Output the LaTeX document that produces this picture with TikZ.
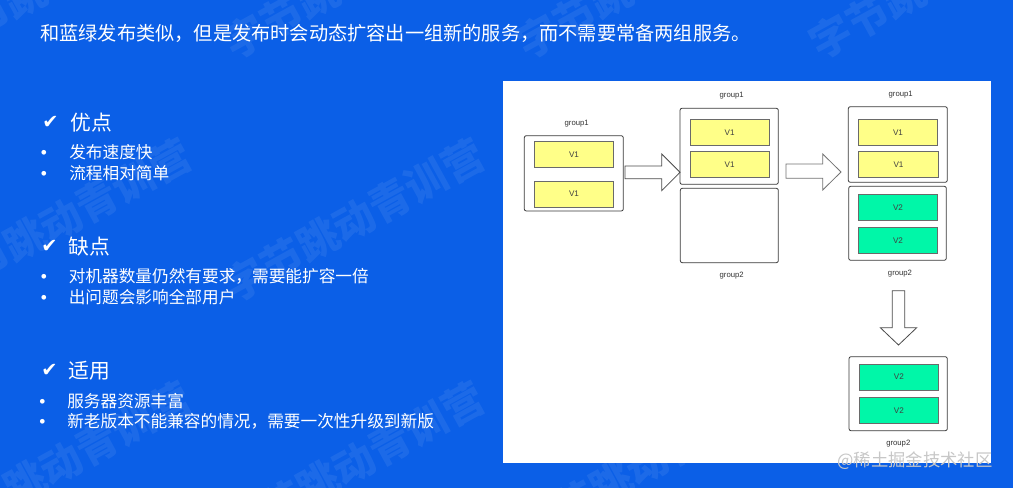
\documentclass[tikz,border=0pt]{standalone}
\usepackage{fontspec}
\setmainfont{Liberation Sans}
\newfontfamily\cjk{Noto Sans CJK SC}
\newfontfamily\symf{DejaVu Sans}
\usetikzlibrary{fit}
\definecolor{bg}{HTML}{0B5FE7}
\definecolor{vyellow}{HTML}{FFFF88}
\definecolor{vgreen}{HTML}{00F7A8}
\definecolor{boxline}{HTML}{3A3A3A}
\definecolor{vline}{HTML}{6A6A6A}
\definecolor{arrline}{HTML}{4A4A4A}
\tikzset{
  titletext/.style={anchor=west,inner sep=0,text=white,font=\cjk\fontsize{14.4pt}{16pt}\selectfont},
  headtext/.style={anchor=west,inner sep=0,text=white,font=\cjk\fontsize{15.6pt}{18pt}\selectfont},
  checkmark/.style={anchor=west,inner sep=0,text=white,font=\symf\fontsize{14.5pt}{16pt}\selectfont},
  bullettext/.style={anchor=west,inner sep=0,text=white,font=\cjk\fontsize{12.5pt}{15pt}\selectfont},
  bulletdot/.style={inner sep=0,text=white,yshift=-1.6pt,font=\fontsize{13pt}{14pt}\selectfont},
  grp/.style={draw=boxline,line width=0.6pt,rounded corners=1.5pt,fill=white,inner sep=0},
  vbox/.style={draw=vline,line width=0.5pt,inner sep=0,minimum width=59.6pt,minimum height=19.5pt,font=\fontsize{6.1pt}{7pt}\selectfont,text=black!75},
  vone/.style={vbox,fill=vyellow},
  vtwo/.style={vbox,fill=vgreen},
  grplabel/.style={inner sep=0,font=\fontsize{5.8pt}{7pt}\selectfont,text=black!80},
  blockarrow/.style={draw=arrline,line width=0.6pt,fill=white,line join=miter},
  wmark/.style={anchor=west,inner sep=0,rotate=28.8,text=white,text opacity=0.07,font=\cjk\bfseries\fontsize{31pt}{33pt}\selectfont},
}
\begin{document}
\begin{tikzpicture}[x=0.75pt,y=-0.75pt]
\fill[bg] (0,0) rectangle (1013,488);
\useasboundingbox (0,0) rectangle (1013,488);

% faint diagonal watermarks (only those not hidden by the white panel)
\foreach \wx/\wy [count=\i] in {-66/47, 227/47, 520/47, 813/47, -66/290, 227/290, -66/533, 227/533, 520/533}
  \node[wmark] (wmk\i) at (\wx,\wy) {字节跳动青训营};

% title
\node[titletext] (title) at (40,33) {和蓝绿发布类似，但是发布时会动态扩容出一组新的服务，而不需要常备两组服务。};

% section 1
\node[checkmark] (c1) at (42,122) {✔};
\node[headtext] (h1) at (70,123) {优点};
\node[bulletdot] (b11) at (44,152.5) {•};
\node[bullettext] (t11) at (69,152.5) {发布速度快};
\node[bulletdot] (b12) at (44,173.3) {•};
\node[bullettext] (t12) at (69,173.3) {流程相对简单};

% section 2
\node[checkmark] (c2) at (41,246) {✔};
\node[headtext] (h2) at (68.5,246.7) {缺点};
\node[bulletdot] (b21) at (44,276.7) {•};
\node[bullettext] (t21) at (68.5,276.7) {对机器数量仍然有要求，需要能扩容一倍};
\node[bulletdot] (b22) at (44,297.3) {•};
\node[bullettext] (t22) at (68.5,297.3) {出问题会影响全部用户};

% section 3
\node[checkmark] (c3) at (41,370) {✔};
\node[headtext] (h3) at (68.5,370.7) {适用};
\node[bulletdot] (b31) at (42.5,401) {•};
\node[bullettext] (t31) at (67,401) {服务器资源丰富};
\node[bulletdot] (b32) at (42.5,421.7) {•};
\node[bullettext] (t32) at (67,421.7) {新老版本不能兼容的情况，需要一次性升级到新版};

% white panel
\fill[white] (503,81) rectangle (991,463);

% column A
\node[grplabel] (la) at (576.7,123.3) {group1};
\node[grp,fit={(524.3,135.7) (623.3,211)}] (ga) {};
\node[vone] (va1) at (574,154.3) {V1};
\node[vone] (va2) at (574,194) {V1};

% column B
\node[grplabel] (lb1) at (731.7,96) {group1};
\node[grp,fit={(680,108.3) (778.3,184.3)}] (gb1) {};
\node[vone] (vb1) at (729.7,132.5) {V1};
\node[vone] (vb2) at (729.7,164.7) {V1};
\node[grp,fit={(680.3,188.3) (778.3,262.7)}] (gb2) {};
\node[grplabel] (lb2) at (731.7,276) {group2};

% column C
\node[grplabel] (lc1) at (900.7,94.3) {group1};
\node[grp,fit={(848.3,106.7) (947.3,182.3)}] (gc1) {};
\node[vone] (vc1) at (898,132.5) {V1};
\node[vone] (vc2) at (898.5,164.5) {V1};
\node[grp,fit={(848.7,186.3) (946.3,260.3)}] (gc2) {};
\node[vtwo] (vc3) at (898,207.3) {V2};
\node[vtwo] (vc4) at (898,240.7) {V2};
\node[grplabel] (lc2) at (900,273.3) {group2};

% column C bottom
\node[grp,fit={(849,356.7) (947.3,430.7)}] (gd) {};
\node[vtwo] (vd1) at (898.8,377) {V2};
\node[vtwo] (vd2) at (898.8,410.5) {V2};
\node[grplabel] (ld) at (898.3,443.3) {group2};

% block arrows
\draw[blockarrow] (625,166) -- (661.7,166) -- (661.7,154) -- (680,172.3) -- (661.7,190.7) -- (661.7,178.7) -- (625,178.7) -- cycle;
\draw[blockarrow,draw=black!55] (786,164) -- (822.7,164) -- (822.7,154) -- (841,172) -- (822.7,190) -- (822.7,178.3) -- (786,178.3) -- cycle;
\draw[blockarrow] (892.3,290.7) -- (904.7,290.7) -- (904.7,327.7) -- (916.7,327.7) -- (898.5,345) -- (880.3,327.7) -- (892.3,327.7) -- cycle;

% source mark
\node[inner sep=0,text=white!78!black,font=\cjk\fontsize{13pt}{14pt}\selectfont] (wm) at (915,461) {@稀土掘金技术社区};
\end{tikzpicture}
\end{document}
